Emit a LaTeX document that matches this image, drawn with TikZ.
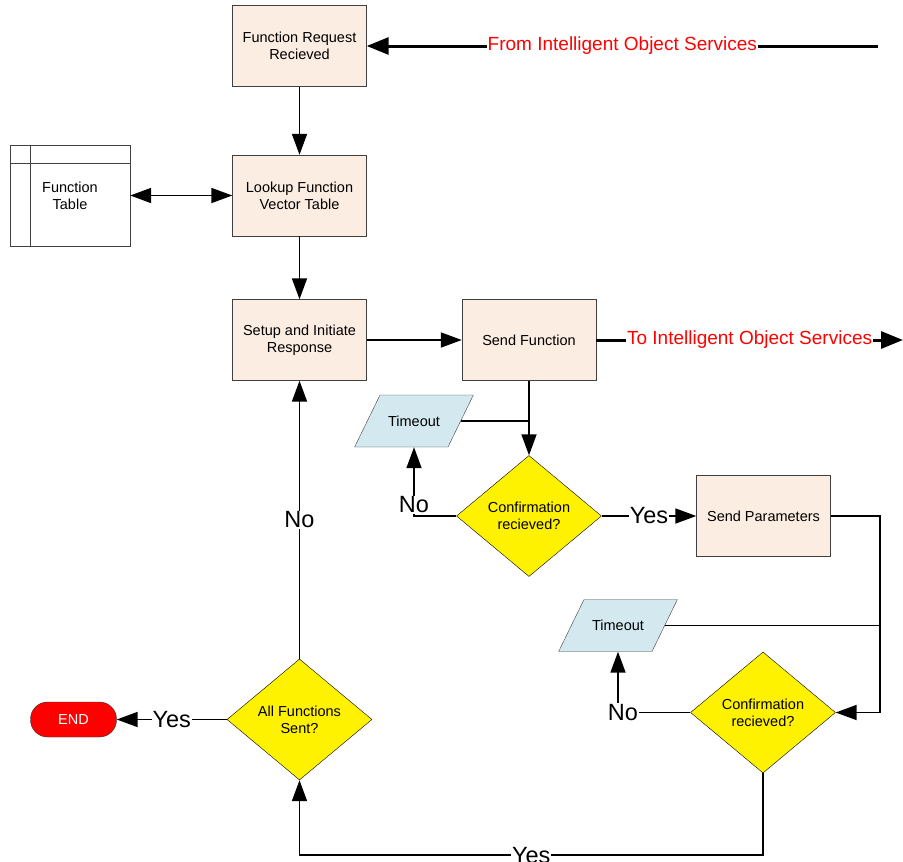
\documentclass[tikz,border=0pt]{standalone}
\usepackage{fontspec}
\setmainfont{Liberation Sans}
\usepackage{xcolor}
\usetikzlibrary{shapes.geometric,arrows.meta}
\definecolor{peach}{HTML}{FCEDE2}
\definecolor{timeoutblue}{HTML}{D3E9EF}

\begin{document}
\begin{tikzpicture}[
      x=1pt, y=-1pt,
      font=\fontsize{14.5}{17}\selectfont,
      box/.style={draw=black!75, fill=peach, minimum width=134pt, minimum height=81pt, align=center, inner sep=2pt},
      decision/.style={diamond, draw, fill=yellow, minimum width=145pt, minimum height=121pt, inner sep=0pt, align=center},
      timeoutbox/.style={trapezium, trapezium left angle=64, trapezium right angle=116,
        draw=black!75, fill=timeoutblue, minimum width=0pt, minimum height=0pt,
        text height=10.6pt, text depth=0pt, text width=52.4pt, align=center, inner xsep=7.8pt, inner ysep=20.7pt},
      tablebox/.style={draw=black!75, fill=white, minimum width=120pt, minimum height=101pt, align=center},
      endbox/.style={draw=black!80, fill=red, text=white, rounded corners=17pt, minimum width=86pt, minimum height=35pt, inner sep=0pt},
      conn/.style={draw, line width=1.8pt},
      arr/.style={conn, -{Triangle[length=21pt,width=15pt]}},
      dblarr/.style={conn, {Triangle[length=21pt,width=15pt]}-{Triangle[length=21pt,width=15pt]}},
      bigarr/.style={draw, line width=3pt, -{Triangle[length=22pt,width=17pt]}},
      lbl/.style={fill=white, inner sep=1pt, font=\fontsize{23.5}{26}\selectfont},
      redlbl/.style={fill=white, text=red, inner sep=1pt, font=\fontsize{19}{22}\selectfont}
    ]
    \useasboundingbox (0,0) rectangle (903,862);

    \node[box] (req) at (299.5,46) {Function Request\\Recieved};
    \node[box] (lookup) at (299.5,195.5) {Lookup Function\\Vector Table};
    \node[tablebox] (ftable) at (70,195.5) {Function\\Table};
    \draw[draw=black!75, line width=1pt] ([yshift=-19pt]ftable.north west) -- ([yshift=-19pt]ftable.north east);
    \draw[draw=black!75, line width=1pt] ([xshift=21pt]ftable.north west) -- ([xshift=21pt]ftable.south west);
    \node[box] (setup) at (299.5,340) {Setup and Initiate\\Response};
    \node[box] (send) at (529,340) {Send Function};
    \node[timeoutbox] (tout1) at (414,421) {Timeout};
    \node[decision] (conf1) at (529,516) {Confirmation\\recieved?};
    \node[box] (params) at (763.5,516) {Send Parameters};
    \node[timeoutbox] (tout2) at (618,625.5) {Timeout};
    \node[decision] (conf2) at (763,712.5) {Confirmation\\recieved?};
    \node[decision] (allsent) at (299.5,719.5) {All Functions\\Sent?};
    \node[endbox] (finish) at (73.5,719.5) {END};

    \coordinate (src) at (878,46);
    \coordinate (dst) at (903,340);
    \coordinate (rail) at (880,0);

    \draw[bigarr] (src) -- node[redlbl]{From Intelligent Object Services} (req.east);
    \draw[arr] (req) -- (lookup);
    \draw[dblarr] (ftable) -- (lookup);
    \draw[arr] (lookup) -- (setup);
    \draw[arr] (setup) -- (send);
    \draw[bigarr] (send) -- node[redlbl]{To Intelligent Object Services} (dst);
    \draw[arr] (send) -- (conf1);
    \draw[conn] (tout1.east) -- (tout1.east -| conf1.north);
    \draw[arr] (conf1.west) -| node[lbl, pos=0.58]{No} (tout1.south);
    \draw[arr] (conf1.east) -- node[lbl]{Yes} (params.west);
    \draw[arr] (params.east) -- (params.east -| rail) |- (conf2.east);
    \draw[conn] (tout2.east) -- (tout2.east -| rail);
    \draw[arr] (conf2.west) -| node[lbl, pos=0.5, xshift=5pt]{No} (tout2.south);
    \draw[arr] (conf2.south) -- ++(0,82) -| node[lbl, pos=0.25]{Yes} (allsent.south);
    \draw[arr] (allsent) -- node[lbl]{No} (setup);
    \draw[arr] (allsent) -- node[lbl]{Yes} (finish);
\end{tikzpicture}
\end{document}
